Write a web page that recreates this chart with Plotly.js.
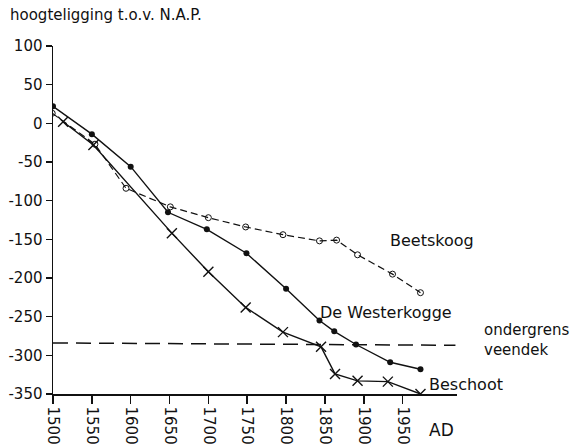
<!DOCTYPE html>
<html>
<head>
<meta charset="utf-8">
<script src="https://cdn.plot.ly/plotly-3.0.1.min.js"></script>
<style>html,body{margin:0;padding:0;background:#fff;}#chart{width:583px;height:447px;}</style>
</head>
<body>
<div id="chart"></div>
<script>
// De Westerkogge (filled dots, solid line)
const westYears = [1500, 1550, 1600, 1648, 1698, 1749, 1800, 1843, 1862, 1890, 1934, 1973];
const westLevel = [22, -14, -56, -115, -137, -168, -214, -255, -269, -286, -309, -318];
// Beschoot (crosses, solid line)
const beschYears = [1513, 1552, 1653, 1700, 1748, 1796, 1845, 1863, 1892, 1931, 1973];
const beschLevel = [2, -28, -142, -192, -238, -270, -289, -324, -333, -334, -350];
// Beetskoog (open circles, dashed line)
const beetYears = [1499, 1554, 1594, 1651, 1700, 1748, 1796, 1843, 1865, 1892, 1937, 1973];
const beetLevel = [13, -27, -84, -108, -122, -134, -144, -152, -151, -170, -195, -219];
// ondergrens veendek (long dashed line)
const veenYears = [1500, 2018];
const veenLevel = [-284, -287];
// ticks
const xTickVals = [1500, 1550, 1600, 1650, 1700, 1750, 1800, 1850, 1900, 1950];
const xTickText = ["1500", "1550", "1600", "1650", "1700", "1750", "1800", "1850", "1900", "1950"];
const yTickVals = [100, 50, 0, -50, -100, -150, -200, -250, -300, -350];
const yTickText = ["100", "50", "0", "-50", "-100", "-150", "-200", "-250", "-300", "-350"];

const FONT = "DejaVu Sans, Verdana, sans-serif";
const INK = "#111";

const traces = [
  {x: veenYears, y: veenLevel, mode: "lines", line: {color: INK, width: 1.5, dash: "15px,8px"}, hoverinfo: "skip"},
  {x: beetYears, y: beetLevel, mode: "lines+markers", line: {color: INK, width: 1.2, dash: "7px,4px"},
   marker: {symbol: "circle-open", size: 6, color: INK, line: {width: 1, color: INK}}},
  {x: westYears, y: westLevel, mode: "lines+markers", line: {color: INK, width: 1.4},
   marker: {symbol: "circle", size: 6, color: INK}},
  {x: beschYears, y: beschLevel, mode: "lines+markers", line: {color: INK, width: 1.4},
   marker: {symbol: "x-thin-open", size: 10, color: INK, line: {width: 1.4, color: INK}}}
];

const layout = {
  width: 583, height: 447,
  margin: {l: 53, r: 126, t: 46, b: 53},
  paper_bgcolor: "#fff", plot_bgcolor: "#fff",
  showlegend: false,
  font: {family: FONT, color: INK, size: 15},
  xaxis: {
    range: [1500, 2020], tickvals: xTickVals, ticktext: xTickText, tickangle: 90,
    ticks: "outside", ticklen: 8, tickwidth: 1.5, tickcolor: INK,
    showline: true, linecolor: INK, linewidth: 1.5, showgrid: false, zeroline: false,
    tickfont: {family: FONT, size: 15, color: INK}
  },
  yaxis: {
    range: [-350, 100], tickvals: yTickVals, ticktext: yTickText,
    ticks: "outside", ticklen: 6, tickwidth: 1.5, tickcolor: INK,
    showline: true, linecolor: INK, linewidth: 1.5, showgrid: false, zeroline: false,
    tickfont: {family: FONT, size: 15, color: INK}
  },
  annotations: [
    {xref: "paper", yref: "paper", x: -0.111, y: 1.089, xanchor: "left", yanchor: "middle",
     text: "hoogteligging t.o.v. N.A.P.", showarrow: false, font: {size: 15}},
    {xref: "x", yref: "y", x: 1506, y: 102, xanchor: "left", yanchor: "middle",
     text: "(cm)", showarrow: false, font: {size: 14}},
    {xref: "x", yref: "y", x: 1931, y: -151, xanchor: "left", yanchor: "middle",
     text: "Beetskoog", showarrow: false, font: {size: 16}},
    {xref: "x", yref: "y", x: 1841, y: -244, xanchor: "left", yanchor: "middle",
     text: "De Westerkogge", showarrow: false, font: {size: 16}},
    {xref: "paper", yref: "paper", x: 1.061, y: 0.154, xanchor: "left", yanchor: "middle", align: "left",
     text: "ondergrens<br>veendek", showarrow: false, font: {size: 15}},
    {xref: "x", yref: "y", x: 1982, y: -338, xanchor: "left", yanchor: "middle",
     text: "Beschoot", showarrow: false, font: {size: 16}},
    {xref: "paper", yref: "paper", x: 0.925, y: -0.103, xanchor: "left", yanchor: "middle",
     text: "AD", showarrow: false, font: {size: 17}}
  ]
};

Plotly.newPlot("chart", traces, layout, {displayModeBar: false, staticPlot: true});
</script>
</body>
</html>
